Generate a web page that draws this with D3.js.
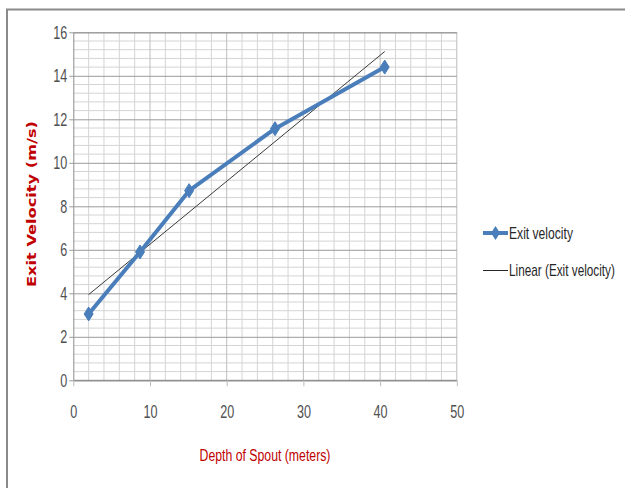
<!DOCTYPE html>
<html>
<head>
<meta charset="utf-8">
<script src="https://cdn.jsdelivr.net/npm/d3@7"></script>
<style>
  html, body { margin: 0; padding: 0; background: #fff; }
  svg { display: block; }
  .narrow { font-family: "Liberation Sans", Arial, sans-serif; }
</style>
</head>
<body>
<svg id="chart" width="625" height="488"></svg>
<script>
// Measured depth of the spout and the exit velocity of the water
const depths = [2, 8.7, 15.1, 26.3, 40.6];
const velocities = [3.05, 5.9, 8.72, 11.57, 14.4];
const xTicks = [0, 10, 20, 30, 40, 50];
const yTicks = [0, 2, 4, 6, 8, 10, 12, 14, 16];
const seriesName = "Exit velocity";
const trendName = "Linear (Exit velocity)";
const xTitle = "Depth of Spout (meters)";
const yTitle = "Exit Velocity (m/s)";

const svg = d3.select("#chart");
const W = 625, H = 488;
const plot = { left: 73.3, right: 456.8, top: 32.3, bottom: 380.3 };
const digitScale = 0.7;

const x = d3.scaleLinear().domain([0, 50]).range([plot.left, plot.right]);
const y = d3.scaleLinear().domain([0, 16]).range([plot.bottom, plot.top]);

// condensed text: squeeze a label horizontally to a given width
function condensed(sel, px, py, width, anchor) {
  const t = sel.append("text").attr("class", "narrow").attr("text-anchor", anchor || "start");
  return { t, fit() {
    const len = t.node().getComputedTextLength();
    t.attr("transform", `translate(${px},${py}) scale(${width / len},1)`);
    return t;
  }};
}

// outer chart frame (runs off the right and bottom edges)
svg.append("rect")
  .attr("x", 7).attr("y", 9.5).attr("width", W + 10).attr("height", H + 10)
  .attr("fill", "#fff").attr("stroke", "#8a8a8a").attr("stroke-width", 2);

// minor horizontal gridlines every 0.4
const minorY = d3.range(0, 16.001, 0.4).filter(v => Math.abs(v / 2 - Math.round(v / 2)) > 1e-6);
svg.append("g").selectAll("line").data(minorY).join("line")
  .attr("x1", plot.left).attr("x2", plot.right)
  .attr("y1", d => y(d)).attr("y2", d => y(d))
  .attr("stroke", "#d4d4d4").attr("stroke-width", 1);

// vertical gridlines every 2
const vLines = d3.range(2, 50.001, 2);
svg.append("g").selectAll("line").data(vLines).join("line")
  .attr("x1", d => x(d)).attr("x2", d => x(d))
  .attr("y1", plot.top).attr("y2", plot.bottom)
  .attr("stroke", d => d % 10 === 0 ? "#bdbdbd" : "#d4d4d4").attr("stroke-width", 1);

// major horizontal gridlines with y axis ticks
const yAxis = d3.axisLeft(y).tickValues(yTicks).tickSize(-(plot.right - plot.left)).tickPadding(6);
const gy = svg.append("g").attr("transform", `translate(${plot.left},0)`).call(yAxis);
gy.select(".domain").attr("stroke", "#8c8c8c");
gy.selectAll(".tick line").attr("stroke", "#9a9a9a").attr("x1", -4);
gy.selectAll(".tick text").attr("class", "narrow").attr("font-size", 18).attr("fill", "#505050")
  .attr("x", 0).attr("transform", `translate(-6,0) scale(${digitScale},1)`);

// x axis
const xAxis = d3.axisBottom(x).tickValues(xTicks).tickSize(6).tickPadding(19);
const gx = svg.append("g").attr("transform", `translate(0,${plot.bottom})`).call(xAxis);
gx.select(".domain").attr("stroke", "#8c8c8c").attr("d", `M${plot.left},0H${plot.right}`);
gx.selectAll(".tick line").attr("stroke", "#bdbdbd");
gx.selectAll(".tick text").attr("class", "narrow").attr("font-size", 18).attr("fill", "#505050")
  .attr("transform", `scale(${digitScale},1)`);

// least-squares linear trendline over the data range
const n = depths.length;
const mx = d3.mean(depths), my = d3.mean(velocities);
let sxy = 0, sxx = 0;
for (let i = 0; i < n; i++) {
  sxy += (depths[i] - mx) * (velocities[i] - my);
  sxx += (depths[i] - mx) ** 2;
}
const slope = sxy / sxx, intercept = my - slope * mx;
const x0 = d3.min(depths), x1 = d3.max(depths);
svg.append("line")
  .attr("x1", x(x0)).attr("y1", y(intercept + slope * x0))
  .attr("x2", x(x1)).attr("y2", y(intercept + slope * x1))
  .attr("stroke", "#3a3a3a").attr("stroke-width", 1);

// data series
const pts = depths.map((d, i) => [d, velocities[i]]);
const blue = "#4a7ebb";
svg.append("path")
  .attr("d", d3.line().x(d => x(d[0])).y(d => y(d[1]))(pts))
  .attr("fill", "none").attr("stroke", blue).attr("stroke-width", 4)
  .attr("stroke-linejoin", "round");

const diamond = "M0,-7L4.5,0L0,7L-4.5,0Z";
svg.append("g").selectAll("path").data(pts).join("path")
  .attr("d", diamond)
  .attr("transform", d => `translate(${x(d[0])},${y(d[1])})`)
  .attr("fill", blue).attr("stroke", blue).attr("stroke-width", 1);

// axis titles
const xt = condensed(svg, 265, 461, 131, "middle");
xt.t.attr("font-size", 17).attr("fill", "#c00000").text(xTitle);
xt.fit();

svg.append("text")
  .attr("transform", "translate(36,204) rotate(-90)")
  .attr("text-anchor", "middle")
  .attr("font-family", "DejaVu Sans, Verdana, sans-serif")
  .attr("font-weight", "bold")
  .attr("font-size", 12.5)
  .attr("fill", "#c00000")
  .attr("textLength", 166).attr("lengthAdjust", "spacingAndGlyphs")
  .text(yTitle);

// legend
const lg = svg.append("g");
lg.append("line").attr("x1", 483).attr("x2", 508).attr("y1", 233).attr("y2", 233)
  .attr("stroke", blue).attr("stroke-width", 4);
lg.append("path").attr("d", diamond).attr("transform", "translate(495.5,233)")
  .attr("fill", blue);
const l1 = condensed(lg, 509, 239, 64);
l1.t.attr("font-size", 17).attr("fill", "#262626").text(seriesName);
l1.fit();
lg.append("line").attr("x1", 483).attr("x2", 508).attr("y1", 270.5).attr("y2", 270.5)
  .attr("stroke", "#262626").attr("stroke-width", 1);
const l2 = condensed(lg, 509, 276, 106);
l2.t.attr("font-size", 17).attr("fill", "#262626").text(trendName);
l2.fit();
</script>
</body>
</html>
